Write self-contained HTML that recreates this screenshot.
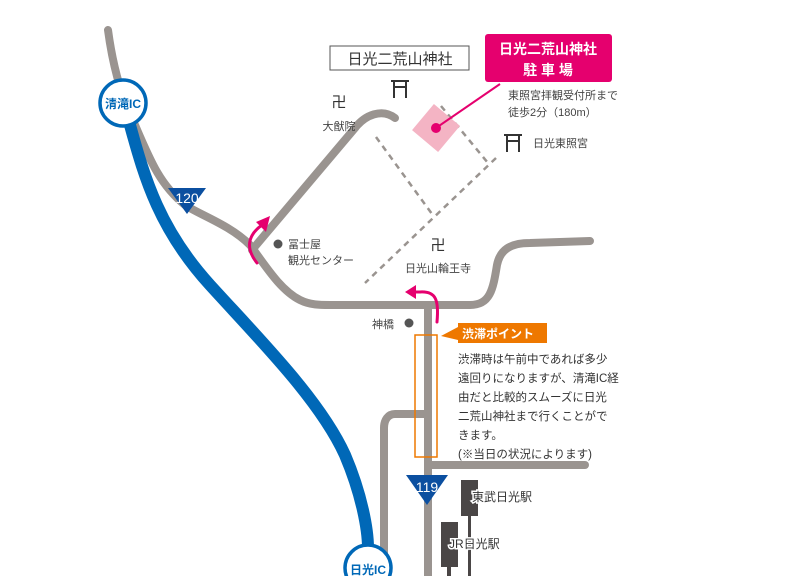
<!DOCTYPE html>
<html><head><meta charset="utf-8"><style>
body{margin:0;background:#fff;}
svg{display:block;font-family:"Liberation Sans","Noto Sans CJK JP",sans-serif;}
</style></head><body>
<svg width="800" height="576" viewBox="0 0 800 576" xmlns="http://www.w3.org/2000/svg">
<g fill="none" stroke="#9a9490" stroke-width="8" stroke-linecap="round" stroke-linejoin="round">
<path d="M108,30 C112,60 120,95 135,125 C150,160 160,185 185,205 C200,215 230,225 250,245 C265,265 280,290 300,300 C310,305 320,305 330,305 L470,305 C490,305 493,290 497,265 C500,250 510,243 530,243 L590,241"/>
<path d="M252,250 L355,128 C365,115 382,108 395,118"/>
<path d="M428,305 L428,576"/>
<path d="M428,414 L395,414 C388,414 384,420 384,428 L384,576"/>
<path d="M430,465 L585,465"/>
</g>
<g stroke="#9a9490" stroke-width="2.5" stroke-dasharray="6,5" fill="none">
<path d="M376,137 L432,214"/>
<path d="M441,106 L488,163"/>
<path d="M496,158 L365,283"/>
</g>
<path d="M130,125 C145,180 160,230 210,285 C260,340 320,400 345,455 C362,495 368,530 368,548" fill="none" stroke="#0068b7" stroke-width="12" stroke-linecap="round"/>
<circle cx="123" cy="103" r="23" fill="#fff" stroke="#0068b7" stroke-width="3.5"/>
<text x="123" y="108" font-size="12" font-weight="bold" fill="#0068b7" text-anchor="middle">清滝IC</text>
<circle cx="368" cy="568" r="23" fill="#fff" stroke="#0068b7" stroke-width="3.5"/>
<text x="368" y="574" font-size="12" font-weight="bold" fill="#0068b7" text-anchor="middle">日光IC</text>
<path d="M168,188 L206,188 L187,214 Z" fill="#0b4fa0"/>
<text x="187" y="203" font-size="14" fill="#fff" text-anchor="middle">120</text>
<path d="M406,475 L448,475 L427,505 Z" fill="#0b4fa0"/>
<text x="427" y="492" font-size="14" fill="#fff" text-anchor="middle">119</text>
<rect x="419" y="111" width="34" height="34" fill="#f4b4c4" transform="rotate(40 436 128)"/>
<line x1="500" y1="84" x2="436" y2="128" stroke="#e5006e" stroke-width="2"/>
<circle cx="436" cy="128" r="5" fill="#e5006e"/>
<rect x="485" y="34" width="127" height="48" rx="3" fill="#e5006e"/>
<text x="548" y="54" font-size="14" font-weight="bold" fill="#fff" text-anchor="middle">日光二荒山神社</text>
<text x="548" y="75" font-size="14" font-weight="bold" fill="#fff" text-anchor="middle">駐 車 場</text>
<rect x="330" y="46" width="139" height="24" fill="#fff" stroke="#555" stroke-width="1"/>
<text x="400" y="64" font-size="15" fill="#333" text-anchor="middle">日光二荒山神社</text>
<text x="508" y="99" font-size="11" fill="#444">東照宮拝観受付所まで</text>
<text x="508" y="116" font-size="11" fill="#444">徒歩2分（180m）</text>
<g fill="none" stroke="#333" stroke-width="2">
<path d="M391,81 L409,81 M393,87 L407,87 M394,81 L394,98 M406,81 L406,98"/>
<path d="M504,135 L522,135 M506,141 L520,141 M507,135 L507,152 M519,135 L519,152"/>
</g>
<g font-size="15" fill="#333" text-anchor="middle"><text x="339" y="107">卍</text><text x="438" y="250">卍</text></g>
<text x="533" y="147" font-size="11" fill="#444">日光東照宮</text>
<text x="339" y="130" font-size="11" fill="#444" text-anchor="middle">大猷院</text>
<circle cx="278" cy="244" r="4.5" fill="#555"/>
<text x="288" y="248" font-size="11" fill="#444">冨士屋</text>
<text x="288" y="264" font-size="11" fill="#444">観光センター</text>
<text x="438" y="272" font-size="11" fill="#444" text-anchor="middle">日光山輪王寺</text>
<text x="372" y="328" font-size="11" fill="#444">神橋</text>
<circle cx="409" cy="323" r="4.5" fill="#555"/>
<g fill="none" stroke="#e5006e" stroke-width="3" stroke-linecap="round">
<path d="M257,263 C245,248 248,235 262,225"/>
<path d="M437,322 C439,300 436,291 420,292 L413,292"/>
</g>
<path d="M270,216 L266,232 L256,222 Z" fill="#e5006e"/>
<path d="M405,292 L416,285 L416,299 Z" fill="#e5006e"/>
<rect x="415" y="335" width="22" height="122" fill="none" stroke="#ee7800" stroke-width="1.5"/>
<path d="M441,336 L458,327 L458,323 L547,323 L547,343 L458,343 L458,340 Z" fill="#ee7800"/>
<text x="462" y="338" font-size="12" font-weight="bold" fill="#fff">渋滞ポイント</text>
<g font-size="11.5" fill="#333">
<text x="458" y="363">渋滞時は午前中であれば多少</text>
<text x="458" y="382">遠回りになりますが、清滝IC経</text>
<text x="458" y="401">由だと比較的スムーズに日光</text>
<text x="458" y="420">二荒山神社まで行くことがで</text>
<text x="458" y="439">きます。</text>
<text x="458" y="458">(※当日の状況によります)</text>
</g>
<rect x="461" y="480" width="17" height="36" fill="#4a4646"/>
<rect x="468" y="515" width="3" height="61" fill="#4a4646"/>
<rect x="441" y="522" width="17" height="45" fill="#4a4646"/>
<rect x="447" y="566" width="4" height="10" fill="#4a4646"/>
<text x="472" y="501" font-size="12" fill="#333" stroke="#fff" stroke-width="3" paint-order="stroke">東武日光駅</text>
<text x="449" y="548" font-size="12" fill="#333" stroke="#fff" stroke-width="3" paint-order="stroke">JR日光駅</text>
</svg>
</body></html>
